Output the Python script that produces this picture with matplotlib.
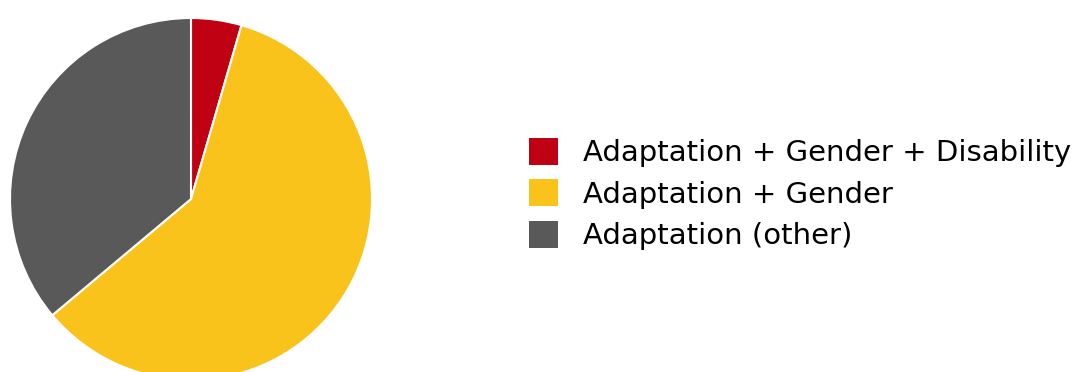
import matplotlib.pyplot as plt
from matplotlib.patches import Patch

labels = ["Adaptation + Gender + Disability", "Adaptation + Gender", "Adaptation (other)"]
shares = [4.5, 59.4, 36.1]
colors = ["#C00013", "#F9C31B", "#595959"]

W, H = 1076, 372
fig = plt.figure(figsize=(W / 100, H / 100), dpi=100)

# pie centre (191, 199) px, radius 181 px
cx, cy, r = 191, 199, 181
ax = fig.add_axes([(cx - r) / W, (H - cy - r) / H, 2 * r / W, 2 * r / H])
ax.pie(shares, colors=colors, startangle=90, counterclock=False,
       wedgeprops=dict(edgecolor="white", linewidth=1.5))
ax.set_aspect("equal")
ax.set_xlim(-1, 1)
ax.set_ylim(-1, 1)

handles = [Patch(facecolor=c, edgecolor="none") for c in colors]
fig.legend(handles, labels, loc="center left", bbox_to_anchor=(529 / W, (H - 194) / H),
           frameon=False, fontsize=21, handlelength=1.0, handleheight=1.05,
           handletextpad=0.85, labelspacing=0.41, borderpad=0, borderaxespad=0)

fig.savefig("out.png", dpi=100)
